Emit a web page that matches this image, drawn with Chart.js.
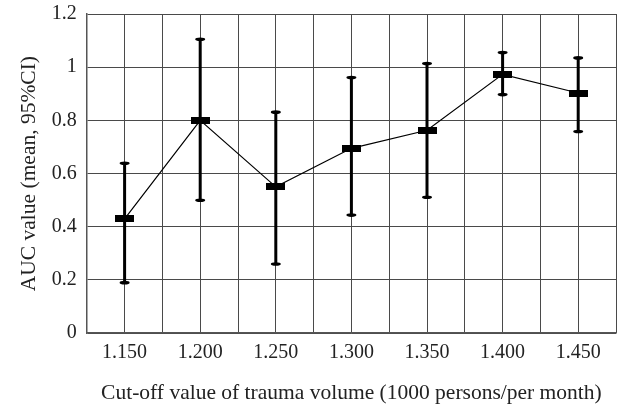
<!DOCTYPE html>
<html>
<head>
<meta charset="utf-8">
<script src="https://cdn.jsdelivr.net/npm/chart.js@4"></script>
<style>
    html, body { margin: 0; padding: 0; background: #fff; }
    #wrap { width: 618px; height: 404px; }
</style>
</head>
<body>
<div id="wrap"><canvas id="aucChart"></canvas></div>
<script>
// Cut-off values (x) and AUC estimates with 95% CI
const cutoffs = [1.150, 1.200, 1.250, 1.300, 1.350, 1.400, 1.450];
const aucMean = [0.43, 0.80, 0.55, 0.695, 0.763, 0.973, 0.903];
const ciLower = [0.19, 0.50, 0.26, 0.444, 0.511, 0.897, 0.758];
const ciUpper = [0.639, 1.105, 0.831, 0.961, 1.014, 1.055, 1.035];
const yTicks = [0, 0.2, 0.4, 0.6, 0.8, 1, 1.2];

const serif = '"Liberation Serif", "DejaVu Serif", serif';

// Black bar-shaped marker for the mean
function makeMarker() {
    const c = document.createElement('canvas');
    c.width = 19;
    c.height = 7;
    const g = c.getContext('2d');
    g.fillStyle = '#000';
    g.fillRect(0, 0, 19, 7);
    return c;
}

// Draw CI whiskers with the chart's own scales
const errorBars = {
    id: 'errorBars',
    beforeDatasetsDraw(chart) {
        const ctx = chart.ctx;
        const xs = chart.scales.x;
        const ys = chart.scales.y;
        ctx.save();
        ctx.strokeStyle = '#000';
        ctx.fillStyle = '#000';
        cutoffs.forEach((c, i) => {
            const x = xs.getPixelForValue(c);
            const yLo = ys.getPixelForValue(ciLower[i]);
            const yHi = ys.getPixelForValue(ciUpper[i]);
            ctx.lineWidth = 3;
            ctx.beginPath();
            ctx.moveTo(x, yLo);
            ctx.lineTo(x, yHi);
            ctx.stroke();
            [yLo, yHi].forEach(y => {
                ctx.beginPath();
                ctx.ellipse(x, y, 5, 1.8, 0, 0, Math.PI * 2);
                ctx.fill();
            });
        });
        ctx.restore();
    }
};

const points = cutoffs.map((c, i) => ({ x: c, y: aucMean[i] }));

new Chart(document.getElementById('aucChart'), {
    type: 'line',
    data: {
        datasets: [{
            data: points,
            borderColor: '#000',
            borderWidth: 1.2,
            pointStyle: makeMarker(),
            pointRadius: 10,
            pointHoverRadius: 10,
            tension: 0,
            fill: false
        }]
    },
    options: {
        responsive: true,
        maintainAspectRatio: false,
        animation: false,
        layout: { autoPadding: false, padding: { top: 14, right: 2, left: 16, bottom: -2 } },
        plugins: {
            legend: { display: false },
            tooltip: { enabled: false }
        },
        scales: {
            x: {
                type: 'linear',
                min: 1.125,
                max: 1.475,
                grid: { color: '#4a4a4a', lineWidth: 1, drawTicks: false },
                border: { color: '#555', width: 1.5 },
                afterBuildTicks(axis) {
                    const t = [];
                    for (let k = 0; k <= 14; k++) {
                        t.push({ value: 1.125 + k * 0.025 });
                    }
                    axis.ticks = t;
                },
                afterFit(axis) {
                    axis.paddingRight = 0;
                },
                ticks: {
                    autoSkip: false,
                    maxRotation: 0,
                    padding: 8,
                    color: '#222',
                    font: { family: serif, size: 20 },
                    callback(value) {
                        const hit = cutoffs.find(c => Math.abs(c - value) < 1e-6);
                        return hit !== undefined ? hit.toFixed(3) : '';
                    }
                },
                title: {
                    display: true,
                    text: 'Cut-off value of trauma volume (1000 persons/per month)',
                    color: '#222',
                    font: { family: serif, size: 21.5 },
                    padding: { top: 7, bottom: 0 }
                }
            },
            y: {
                min: 0,
                max: 1.2,
                grid: { color: '#4a4a4a', lineWidth: 1, drawTicks: false },
                border: { color: '#555', width: 1.5 },
                afterBuildTicks(axis) {
                    axis.ticks = yTicks.map(v => ({ value: v }));
                },
                afterFit(axis) {
                    axis.paddingTop = 0;
                },
                ticks: {
                    padding: 10,
                    color: '#222',
                    font: { family: serif, size: 20 },
                    callback(value) {
                        return String(Math.round(value * 10) / 10);
                    }
                },
                title: {
                    display: true,
                    text: 'AUC value (mean, 95%CI)',
                    color: '#222',
                    font: { family: serif, size: 21.5 },
                    padding: { top: 0, bottom: 0 }
                }
            }
        }
    },
    plugins: [errorBars]
});
</script>
</body>
</html>
